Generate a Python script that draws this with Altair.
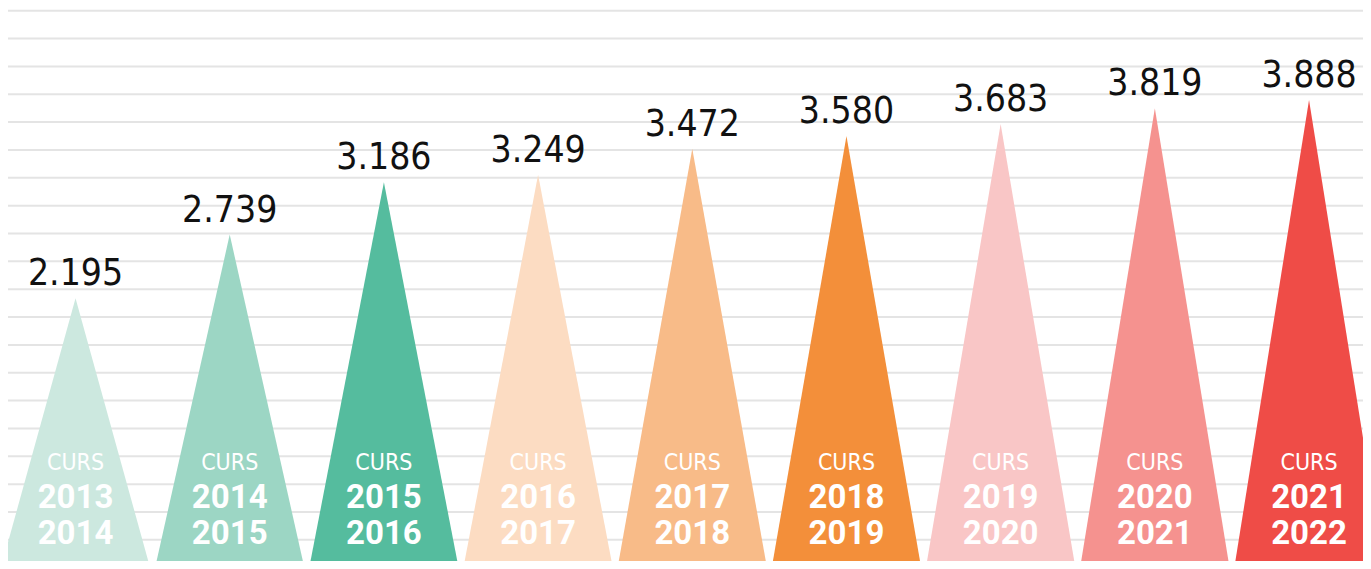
import altair as alt
import pandas as pd

# ---- data ----
cursos = ["2013-2014", "2014-2015", "2015-2016", "2016-2017", "2017-2018",
          "2018-2019", "2019-2020", "2020-2021", "2021-2022"]
year_a = ["2013", "2014", "2015", "2016", "2017", "2018", "2019", "2020", "2021"]
year_b = ["2014", "2015", "2016", "2017", "2018", "2019", "2020", "2021", "2022"]
values = [2195, 2739, 3186, 3249, 3472, 3580, 3683, 3819, 3888]
colors = ["#cce8df", "#9cd6c4", "#55bc9e", "#fcdcc2", "#f8bb88",
          "#f38f3a", "#f9c6c6", "#f5928f", "#ef4c47"]
grid_lines = list(range(0, 21))

# ---- layout parameters ----
W, H = 1355, 553
BASE = -120            # value where the triangle bases sit (just below the view)
Y_DOMAIN = [-51.3, 4675]
HALF = 0.486           # half base width, in slot units
X_DOMAIN = [-0.438, 8.350]
GRID_DOMAIN = [0.241, 20.097]
COND = "DejaVu Sans Condensed, Roboto Condensed, Roboto"

tri_rows = []
for i, (c, v) in enumerate(zip(cursos, values)):
    tri_rows.append({"curs": c, "x": i - HALF, "y": BASE, "y0": BASE})
    tri_rows.append({"curs": c, "x": i, "y": v, "y0": BASE})
    tri_rows.append({"curs": c, "x": i + HALF, "y": BASE, "y0": BASE})
tri = pd.DataFrame(tri_rows)

lab = pd.DataFrame({
    "curs": cursos,
    "x": list(range(len(cursos))),
    "v": values,
    "label": [f"{v:,}".replace(",", ".") for v in values],
    "ya": year_a,
    "yb": year_b,
    "bottom": [Y_DOMAIN[0]] * len(cursos),
})

xs = alt.Scale(domain=X_DOMAIN, nice=False, zero=False)
ys = alt.Scale(domain=Y_DOMAIN, nice=False, zero=False)

grid = alt.Chart(pd.DataFrame({"g": grid_lines})).mark_rule(
    color="#e4e4e4", strokeWidth=2, clip=True
).encode(
    y=alt.Y("g:Q", scale=alt.Scale(domain=GRID_DOMAIN, nice=False, zero=False), axis=None)
)

tris = alt.Chart(tri).mark_area(interpolate="linear", opacity=1, clip=True).encode(
    x=alt.X("x:Q", scale=xs, axis=None),
    y=alt.Y("y:Q", scale=ys, axis=None, stack=None),
    y2="y0:Q",
    color=alt.Color("curs:N", scale=alt.Scale(domain=cursos, range=colors), legend=None),
    detail="curs:N",
)

base_txt = alt.Chart(lab).encode(
    x=alt.X("x:Q", scale=xs, axis=None),
)

num = base_txt.mark_text(
    font=COND, fontSize=37, color="#111111",
    baseline="alphabetic", align="center", dy=-13
).encode(y=alt.Y("v:Q", scale=ys, axis=None), text="label:N")

curs_txt = base_txt.mark_text(
    font=COND, fontSize=23, color="white",
    baseline="middle", align="center", dy=-98
).encode(y=alt.Y("bottom:Q", scale=ys, axis=None), text=alt.value("CURS"))

ya_txt = base_txt.mark_text(
    font="Roboto", fontSize=33, fontWeight="bold", color="white",
    baseline="middle", align="center", dy=-63
).encode(y=alt.Y("bottom:Q", scale=ys, axis=None), text="ya:N")

yb_txt = base_txt.mark_text(
    font="Roboto", fontSize=33, fontWeight="bold", color="white",
    baseline="middle", align="center", dy=-27
).encode(y=alt.Y("bottom:Q", scale=ys, axis=None), text="yb:N")

main = alt.layer(tris, num, curs_txt, ya_txt, yb_txt)

chart = alt.layer(grid, main).resolve_scale(y="independent").properties(
    width=W, height=H, padding=0, background="white"
).configure_view(stroke=None)

chart.save("out.html", embed_options={"renderer": "svg", "actions": False})
